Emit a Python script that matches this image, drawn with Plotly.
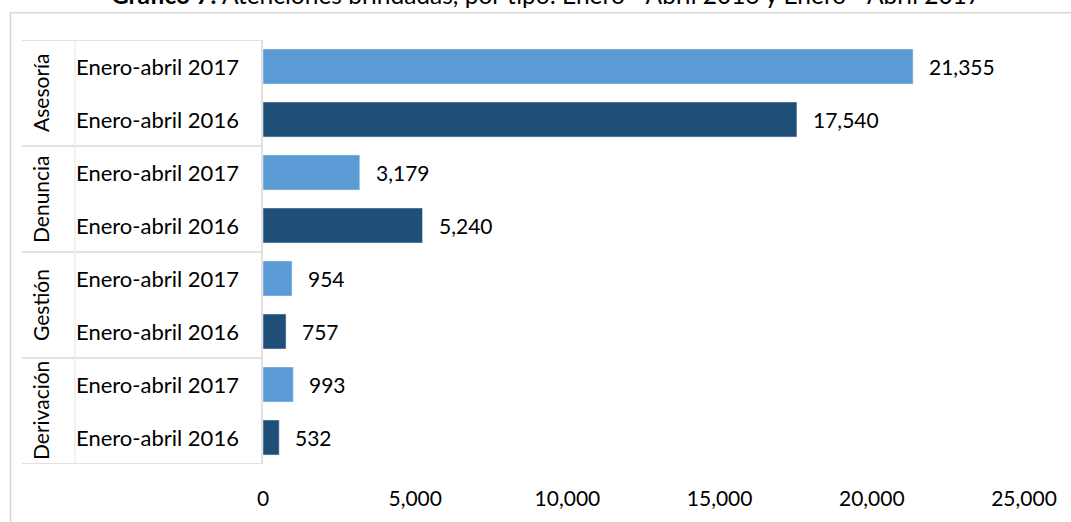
import plotly.graph_objects as go

groups = ["Asesoría", "Denuncia", "Gestión", "Derivación"]
periods = ["Enero-abril 2017", "Enero-abril 2016"]
values_2017 = [21355, 3179, 954, 993]
values_2016 = [17540, 5240, 757, 532]
x_ticks = [0, 5000, 10000, 15000, 20000, 25000]

title_text = "<b>Gráfico 7:</b> Atenciones brindadas, por tipo: Enero - Abril 2016 y Enero - Abril 2017"

W, H = 1071, 522
L, R, T, B = 263, 47, 40, 56
PW = W - L - R
PH = H - T - B

def px_to_paper_x(px):
    return (px - L) / PW

def px_to_paper_y(py):
    return (H - B - py) / PH

FONT = "Lato"
LIGHT = "#5B9BD5"
DARK = "#1F4E79"
GRID = "#D9D9D9"

# row indices: group g -> 2017 at 2g, 2016 at 2g+1
y17 = [2 * g for g in range(len(groups))]
y16 = [2 * g + 1 for g in range(len(groups))]

fig = go.Figure()
fig.add_trace(go.Bar(x=values_2017, y=y17, orientation="h", marker_color=LIGHT,
                     width=0.66, name=periods[0], hoverinfo="x"))
fig.add_trace(go.Bar(x=values_2016, y=y16, orientation="h", marker_color=DARK,
                     width=0.66, name=periods[1], hoverinfo="x"))

annotations = []
# title (clipped at the top like the reference)
annotations.append(dict(x=px_to_paper_x(546), y=px_to_paper_y(-6), xref="paper", yref="paper",
                        text=title_text, showarrow=False, xanchor="center", yanchor="middle",
                        font=dict(family=FONT, size=24.5, color="#000000")))
# value labels
for vals, ys in ((values_2017, y17), (values_2016, y16)):
    for v, yy in zip(vals, ys):
        annotations.append(dict(x=v, y=yy, xref="x", yref="y", text=f"{v:,}",
                                showarrow=False, xanchor="left", xshift=14,
                                font=dict(family=FONT, size=21, color="#000000")))
# period labels
for g in range(len(groups)):
    for k, p in enumerate(periods):
        annotations.append(dict(x=px_to_paper_x(241), y=2 * g + k, xref="paper", yref="y",
                                text=p, showarrow=False, xanchor="right",
                                font=dict(family=FONT, size=22, color="#000000")))
    annotations.append(dict(x=px_to_paper_x(40), y=2 * g + 0.5, xref="paper", yref="y",
                            text=groups[g], showarrow=False, textangle=-90,
                            xanchor="center", yanchor="middle",
                            font=dict(family=FONT, size=21, color="#000000")))

shapes = []
# outer chart border
shapes.append(dict(type="rect", xref="paper", yref="paper",
                   x0=px_to_paper_x(10.5), x1=px_to_paper_x(1080),
                   y0=px_to_paper_y(540), y1=px_to_paper_y(12.5),
                   line=dict(color=GRID, width=1.5), fillcolor="rgba(0,0,0,0)", layer="below"))
# table horizontal lines
n_rows = 2 * len(groups)
for g in range(len(groups) + 1):
    yy = 2 * g - 0.5
    shapes.append(dict(type="line", xref="paper", yref="y",
                       x0=px_to_paper_x(22), x1=px_to_paper_x(262), y0=yy, y1=yy,
                       line=dict(color=GRID, width=1.5)))
# table vertical lines
for xpx in (75, 262):
    shapes.append(dict(type="line", xref="paper", yref="y",
                       x0=px_to_paper_x(xpx), x1=px_to_paper_x(xpx), y0=-0.5, y1=n_rows - 0.5,
                       line=dict(color=GRID if xpx == 262 else "#EDEDED", width=1.5)))

fig.update_layout(
    width=W, height=H,
    margin=dict(l=L, r=R, t=T, b=B, pad=0),
    paper_bgcolor="white", plot_bgcolor="white",
    barmode="overlay",
    showlegend=False,
    xaxis=dict(range=[0, 25000], tickvals=x_ticks, tickformat=",", showgrid=False,
               zeroline=False, showline=False, ticks="", ticklabelstandoff=20,
               tickfont=dict(family=FONT, size=21, color="#000000")),
    yaxis=dict(range=[n_rows - 0.5, -0.5], showticklabels=False, showgrid=False,
               zeroline=False, showline=False, ticks=""),
    annotations=annotations,
    shapes=shapes,
)

fig.write_html("out.html", config={"displayModeBar": False},
               post_script="document.body.style.margin='0';document.body.style.overflow='hidden';")
